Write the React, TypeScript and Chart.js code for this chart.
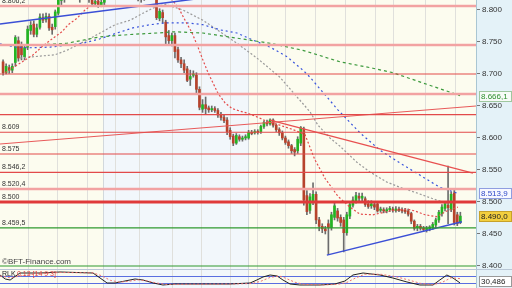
import React, { useEffect, useRef } from 'react';
import { Chart, registerables } from 'chart.js';
Chart.register(...registerables);

// ---------- candle data (index 0..149) ----------
const opens = [8719,8702,8710,8706,8718,8752,8745,8727,8742,8768,8778,8762,8773,8788,8785,8790,8773,8774,8795,8815,
8820,8826,8832,8828,8836,8830,8822,8826,8820,8818,8810,8814,8808,8812,8822,8830,8836,8840,8834,8838,
8832,8836,8830,8834,8828,8826,8820,8826,8830,8828,8822,8787,8796,8781,8760,8752,8760,8738,8722,8716,
8708,8692,8698,8698,8676,8645,8652,8647,8644,8646,8643,8637,8632,8628,8612,8603,8592,8602,8598,8600,
8600,8609,8608,8610,8610,8618,8624,8622,8628,8620,8613,8608,8600,8594,8588,8582,8580,8592,8614,8510,
8487,8500,8512,8472,8462,8458,8466,8460,8476,8486,8476,8472,8452,8478,8495,8502,8509,8506,8505,8497,
8494,8496,8497,8487,8488,8486,8488,8489,8487,8489,8488,8487,8486,8482,8470,8460,8462,8459,8457,8458,
8460,8464,8472,8482,8490,8495,8488,8514,8480,8468];
const highs = [8722,8716,8714,8716,8760,8758,8750,8745,8775,8782,8783,8778,8794,8794,8795,8794,8778,8800,8825,8830,
8834,8838,8840,8842,8844,8834,8832,8830,8826,8822,8818,8818,8816,8826,8836,8842,8846,8846,8844,8842,
8842,8840,8840,8838,8834,8830,8832,8836,8836,8832,8828,8802,8800,8784,8768,8764,8764,8742,8726,8722,
8712,8706,8705,8702,8680,8660,8664,8650,8650,8649,8646,8640,8636,8632,8616,8606,8607,8605,8603,8605,
8612,8612,8613,8613,8620,8627,8628,8630,8630,8622,8616,8611,8603,8597,8590,8585,8602,8618,8617,8518,
8513,8530,8516,8476,8466,8462,8472,8484,8500,8490,8480,8476,8484,8500,8508,8515,8514,8514,8508,8502,
8502,8500,8500,8492,8491,8491,8493,8492,8493,8492,8491,8490,8489,8484,8472,8465,8465,8462,8462,8463,
8468,8475,8487,8496,8500,8556,8516,8518,8484,8484];
const lows = [8698,8700,8701,8702,8712,8720,8722,8722,8738,8762,8758,8758,8770,8780,8781,8768,8762,8770,8792,8808,
8812,8822,8824,8825,8826,8812,8816,8816,8812,8806,8806,8804,8805,8808,8818,8826,8830,8830,8828,8826,
8826,8824,8824,8820,8814,8812,8815,8822,8822,8818,8785,8783,8780,8745,8745,8744,8725,8718,8710,8702,
8688,8682,8695,8670,8644,8640,8638,8640,8641,8640,8632,8628,8624,8605,8598,8588,8590,8595,8595,8597,
8598,8605,8606,8606,8607,8615,8619,8620,8617,8610,8604,8597,8590,8584,8576,8572,8576,8588,8495,8480,
8482,8496,8466,8455,8452,8450,8418,8456,8472,8470,8462,8422,8448,8474,8492,8498,8500,8502,8493,8490,
8490,8488,8484,8484,8483,8483,8485,8484,8484,8485,8483,8482,8478,8466,8456,8455,8456,8454,8453,8455,
8457,8460,8468,8478,8486,8466,8485,8464,8463,8466];
const closes = [8702,8712,8706,8712,8757,8725,8730,8741,8770,8776,8762,8772,8789,8784,8790,8772,8769,8797,8816,8822,
8826,8832,8828,8836,8830,8822,8826,8820,8816,8810,8813,8808,8812,8822,8830,8836,8840,8834,8838,8832,
8836,8830,8834,8828,8826,8820,8826,8830,8828,8822,8788,8798,8788,8758,8752,8760,8735,8722,8716,8706,
8690,8696,8700,8676,8648,8652,8646,8644,8646,8643,8636,8632,8627,8610,8602,8592,8604,8598,8600,8602,
8609,8607,8610,8609,8618,8624,8622,8628,8620,8613,8608,8600,8593,8588,8580,8578,8598,8616,8503,8485,
8508,8512,8472,8462,8458,8455,8460,8480,8494,8475,8468,8452,8480,8496,8503,8510,8506,8509,8496,8493,
8497,8492,8486,8489,8486,8488,8490,8487,8489,8487,8486,8485,8481,8470,8459,8462,8459,8457,8459,8461,
8465,8472,8484,8492,8497,8491,8512,8468,8466,8478];

// ---------- moving averages: [candle index, value] ----------
const maFast = [[0.7,8702],[3.9,8712],[7.2,8722],[9.8,8730],[13,8744],[16.3,8756],[19.2,8766],[21.2,8777],[24.1,8787],[26.7,8800],[29.3,8809],[33.2,8822],[38.1,8831],[44.6,8834],[51.1,8828],[54.4,8819],[57,8805],[59.3,8784],[61.6,8764],[63.5,8742],[65.1,8722],[66.8,8702],[68.4,8686],[70,8670],[72.3,8655],[74.6,8646],[77.2,8642],[79.5,8639],[82.7,8633],[86,8626],[90.2,8620],[95.1,8612],[98.4,8605],[101.6,8566],[104.9,8537],[109.1,8509],[113,8492],[116.3,8481],[120.5,8480],[126.1,8486],[131.6,8489],[134.2,8486],[137.5,8480],[141.4,8477],[144.6,8486],[148.2,8492]];
const maMid = [[5.5,8725],[12.1,8728],[16.9,8730],[20.8,8737],[27.4,8753],[31.6,8764],[36.5,8777],[41.4,8784],[45.6,8795],[48.9,8803],[52.8,8809],[58.6,8800],[65.1,8784],[70.7,8766],[76.2,8748],[82.7,8725],[90.2,8695],[95.8,8664],[100,8641],[102.6,8620],[106.5,8600],[109.8,8587],[115.3,8562],[119.5,8547],[125.1,8531],[129.3,8523],[134.9,8514],[140.1,8505],[144.6,8498]];
const maSlow = [[-1,8747],[3.9,8742],[8.8,8741],[15.3,8742],[20.8,8745],[26.1,8748],[31.6,8755],[37.1,8764],[42.3,8772],[47.9,8777],[53.4,8780],[59.9,8780],[65.1,8777],[70.7,8769],[76.2,8764],[81.4,8753],[87,8742],[92.5,8727],[97.7,8706],[100,8695],[109.1,8644],[116.3,8608],[122.8,8581],[129.3,8561],[135.8,8542],[142.3,8523],[147.9,8514]];
const maLong = [[10.4,8745],[20.8,8748],[31.6,8758],[42.3,8762],[50.2,8764],[55.4,8766],[65.1,8764],[76.2,8756],[87,8748],[97.7,8737],[109.8,8719],[120.5,8709],[127,8702],[136.8,8686],[146.6,8670],[148.9,8666]];

// ---------- trend lines: [index, value] pairs ----------
const trendUpperBlue = [[-1,8778],[64,8818]];
const trendLowerBlue = [[105.5,8417],[149.5,8469]];
const trendRisingRed = [[-1,8590.6],[154.1,8650]];
const trendFallingRed = [[87,8628],[153.1,8545]];

// ---------- horizontal levels ----------
const levelValues = [8806.2, 8745.3, 8700, 8668.7, 8636.4, 8609, 8575, 8546.2, 8520.4, 8500, 8459.5, 8400];
const levelKinds = ['soft','soft','hard','soft','hard','hard','hard','hard','soft','major','support','support'];
const levelLabels = ['8.806,2','','','','','8.609','8.575','8.546,2','8.520,4','8.500','8.459,5',''];

const yTicks = [8400, 8450, 8500, 8550, 8600, 8650, 8700, 8750, 8800];

// ---------- oscillator ----------
const oscMain = [[-1,75.7],[0.7,52.9],[2.3,47.1],[5.5,87.1],[12.1,87.1],[18.6,92.9],[29.3,87.1],[31.6,58.6],[33.9,30],[36.5,30],[39.7,41.4],[43,52.9],[45.6,47.1],[48.9,30],[52.1,18.6],[56,24.3],[64.2,24.3],[73.9,24.3],[80.5,30],[82.7,47.1],[84.7,64.3],[87,75.7],[89.3,70],[91.2,47.1],[93.5,24.3],[96.7,18.6],[103.3,18.6],[108.1,24.3],[111.4,41.4],[114,75.7],[117.3,87.1],[122.8,75.7],[127,58.6],[131.6,35.7],[135.8,18.6],[140.1,18.6],[142.3,47.1],[144.6,75.7],[146.6,58.6],[148.9,30.5]];
const oscSignal = [[-1,70],[2.3,60],[5.5,70],[12,85],[18.6,90],[29.3,88],[32,72],[35,45],[38,35],[41,40],[44,48],[47,42],[50,30],[53,22],[60,23],[74,24],[81,27],[84,40],[87,62],[90,70],[92,58],[95,35],[98,22],[104,19],[109,22],[112,33],[115,60],[118,80],[123,80],[128,66],[132,48],[136,28],[140,20],[143,33],[146,60],[148.9,55]];
const oscLevels = [70, 30];

// ---------- calendar bands & grid (candle index) ----------
const bandEdges = [-1, 32.6, 79.8, 154.1];
const gridIndex = [8.1, 17.6, 27.4, 36.5, 44.3, 55.0, 64.5, 73.9, 82.7, 91.9, 101.6, 111.4, 121.2, 127.0, 137.5, 147.2];

const X_MIN = -1;
const X_MAX = 154.1;

const pts = (a: number[][]) => a.map(([x, y]) => ({ x, y }));

const levelStyle: Record<string, { color: string; width: number }> = {
  soft: { color: '#f2a2a2', width: 2.5 },
  hard: { color: '#e24a4a', width: 1.2 },
  major: { color: '#e03a3a', width: 3 },
  support: { color: '#2f9a2f', width: 1.2 },
};

const FONT = '"Liberation Sans", Arial, sans-serif';

const bandsPlugin = {
  id: 'bands',
  beforeDraw(chart: any) {
    const { ctx, chartArea: a, scales } = chart;
    const x = scales.x;
    ctx.save();
    for (let k = 0; k < bandEdges.length - 1; k++) {
      const x0 = x.getPixelForValue(bandEdges[k]);
      const x1 = x.getPixelForValue(bandEdges[k + 1]);
      ctx.fillStyle = k % 2 === 0 ? '#fcfcef' : '#f2f7fb';
      ctx.fillRect(x0, a.top, x1 - x0, a.bottom - a.top);
    }
    ctx.lineWidth = 1;
    ctx.strokeStyle = '#e0e0dc';
    for (const g of gridIndex) {
      const px = Math.round(x.getPixelForValue(g)) + 0.5;
      ctx.beginPath(); ctx.moveTo(px, a.top); ctx.lineTo(px, a.bottom); ctx.stroke();
    }
    ctx.strokeStyle = '#d2d8dc';
    for (let k = 1; k < bandEdges.length - 1; k++) {
      const px = Math.round(x.getPixelForValue(bandEdges[k])) + 0.5;
      ctx.beginPath(); ctx.moveTo(px, a.top); ctx.lineTo(px, a.bottom); ctx.stroke();
    }
    ctx.fillStyle = '#e4f2f8';
    ctx.fillRect(a.right, 0, chart.width - a.right, chart.height);
    ctx.strokeStyle = '#a9c6d3';
    ctx.beginPath(); ctx.moveTo(a.right + 0.5, 0); ctx.lineTo(a.right + 0.5, chart.height); ctx.stroke();
    ctx.restore();
  },
};

function drawTag(ctx: any, x: number, cy: number, text: string, fg: string, bg: string, border: string) {
  const w = 32, h = 10;
  const top = Math.round(cy - h / 2) + 0.5;
  ctx.fillStyle = bg;
  ctx.fillRect(x + 0.5, top, w, h);
  ctx.strokeStyle = border;
  ctx.lineWidth = 1;
  ctx.strokeRect(x + 0.5, top, w, h);
  ctx.fillStyle = fg;
  ctx.font = `8px ${FONT}`;
  ctx.textBaseline = 'middle';
  ctx.textAlign = 'left';
  ctx.fillText(text, x + 2, top + h / 2 + 0.5);
}

const levelsPlugin = {
  id: 'levels',
  afterDatasetsDraw(chart: any) {
    const { ctx, chartArea: a, scales } = chart;
    const y = scales.y;
    ctx.save();
    ctx.beginPath(); ctx.rect(a.left, a.top, a.right - a.left, a.bottom - a.top); ctx.clip();
    levelValues.forEach((v, i) => {
      const st = levelStyle[levelKinds[i]];
      const py = y.getPixelForValue(v);
      ctx.strokeStyle = st.color;
      ctx.lineWidth = st.width;
      ctx.beginPath(); ctx.moveTo(a.left, py); ctx.lineTo(a.right, py); ctx.stroke();
    });
    ctx.font = `7px ${FONT}`;
    ctx.fillStyle = '#333';
    ctx.textAlign = 'left';
    ctx.textBaseline = 'bottom';
    levelValues.forEach((v, i) => {
      if (!levelLabels[i]) return;
      const py = y.getPixelForValue(v);
      ctx.fillText(levelLabels[i], a.left + 2, py - 1.5);
    });
    ctx.font = `8px ${FONT}`;
    ctx.fillStyle = '#444';
    ctx.fillText('©BFT-Finance.com', a.left + 2, a.bottom - 3);
    ctx.restore();
  },
  afterDraw(chart: any) {
    const { ctx, chartArea: a, scales } = chart;
    const y = scales.y;
    ctx.save();
    const last = closes[closes.length - 1];
    drawTag(ctx, a.right + 3, y.getPixelForValue(8666.1), '8.666,1', '#2d8f2d', '#f7fbf7', '#9fc79f');
    drawTag(ctx, a.right + 3, y.getPixelForValue(8513.9), '8.513,9', '#2f49c8', '#f7f8ff', '#8f9ee0');
    drawTag(ctx, a.right + 3, y.getPixelForValue(last), '8.490,0', '#222', '#f2cf3f', '#c7a22a');
    ctx.restore();
  },
};

const oscPlugin = {
  id: 'osc',
  beforeDatasetsDraw(chart: any) {
    const { ctx, chartArea: a, scales } = chart;
    const y = scales.y;
    ctx.save();
    ctx.strokeStyle = '#5a6ee0';
    ctx.lineWidth = 1;
    for (const l of oscLevels) {
      const py = Math.round(y.getPixelForValue(l)) + 0.5;
      ctx.beginPath(); ctx.moveTo(a.left, py); ctx.lineTo(a.right, py); ctx.stroke();
    }
    ctx.strokeStyle = '#b9c7d6';
    ctx.beginPath(); ctx.moveTo(0, 0.5); ctx.lineTo(chart.width, 0.5); ctx.stroke();
    ctx.restore();
  },
  afterDraw(chart: any) {
    const { ctx, chartArea: a, scales } = chart;
    const y = scales.y;
    ctx.save();
    ctx.font = `7px ${FONT}`;
    ctx.textBaseline = 'top';
    ctx.textAlign = 'left';
    ctx.fillStyle = '#222';
    ctx.fillText('RLK', 2, 2);
    ctx.fillStyle = '#e04848';
    ctx.fillText('0.13 [14 9 3]', 17, 2);
    const lastV = oscMain[oscMain.length - 1][1];
    const cy = Math.min(y.getPixelForValue(lastV), chart.height - 7);
    drawTag(ctx, a.right + 3, cy, '30,486', '#222', '#ffffff', '#999');
    ctx.restore();
  },
};

export default function App() {
  const mainRef = useRef<HTMLCanvasElement>(null);
  const oscRef = useRef<HTMLCanvasElement>(null);

  useEffect(() => {
    const idx = closes.map((_, i) => i);
    const bodyData = idx.map((i) => ({ x: i, y: [Math.min(opens[i], closes[i]), Math.max(opens[i], closes[i])] }));
    const wickData = idx.map((i) => ({ x: i, y: [lows[i], highs[i]] }));
    const bodyColors = idx.map((i) => (closes[i] >= opens[i] ? '#23b523' : '#b7432c'));

    const lineDs = (data: number[][], color: string, width: number, dash: number[], order: number) => ({
      type: 'line' as const,
      data: pts(data),
      borderColor: color,
      borderWidth: width,
      borderDash: dash,
      pointRadius: 0,
      tension: 0,
      fill: false,
      order,
    });

    const main = new Chart(mainRef.current!, {
      type: 'bar',
      data: {
        datasets: [
          { type: 'bar', data: wickData as any, backgroundColor: '#6c6c6c', barThickness: 1, grouped: false, order: 6 } as any,
          { type: 'bar', data: bodyData as any, backgroundColor: bodyColors, borderWidth: 0, barThickness: 2, grouped: false, minBarLength: 1, order: 5 } as any,
          lineDs(maLong, '#3d9a3d', 1.2, [3, 3], 4),
          lineDs(maSlow, '#3a55dc', 1.2, [2, 3], 4),
          lineDs(maMid, '#9a9a9a', 1.2, [2, 2], 4),
          lineDs(maFast, '#e44c4c', 1.2, [2, 2], 3),
          lineDs(trendUpperBlue, '#3b4fd6', 1.5, [], 1),
          lineDs(trendLowerBlue, '#3b4fd6', 1.5, [], 1),
          lineDs(trendRisingRed, '#e85a5a', 1.2, [], 1),
          lineDs(trendFallingRed, '#e85050', 1.2, [], 1),
        ],
      },
      options: {
        animation: false,
        responsive: false,
        maintainAspectRatio: false,
        layout: { padding: 0 },
        plugins: { legend: { display: false }, tooltip: { enabled: false } },
        scales: {
          x: { type: 'linear', min: X_MIN, max: X_MAX, display: false, offset: false },
          y: {
            position: 'right',
            min: 8395.3,
            max: 8815.6,
            afterFit(s: any) { s.width = 36; s.paddingTop = 0; s.paddingBottom = 0; },
            afterBuildTicks(s: any) { s.ticks = yTicks.map((v) => ({ value: v })); },
            ticks: {
              callback: (v: any) => {
                const n = Number(v);
                return Math.floor(n / 1000) + '.' + String(n % 1000).padStart(3, '0');
              },
              font: { size: 8, family: FONT },
              color: '#333',
              padding: 2,
            },
            grid: { drawOnChartArea: false, tickLength: 4, color: '#777' },
            border: { color: '#a9c6d3' },
          },
        },
      } as any,
      plugins: [bandsPlugin, levelsPlugin],
    });

    const osc = new Chart(oscRef.current!, {
      type: 'line',
      data: {
        datasets: [
          { data: pts(oscSignal), borderColor: '#ee7070', borderWidth: 1, borderDash: [2, 2], pointRadius: 0, tension: 0 },
          { data: pts(oscMain), borderColor: '#222', borderWidth: 1, pointRadius: 0, tension: 0 },
        ],
      },
      options: {
        animation: false,
        responsive: false,
        maintainAspectRatio: false,
        layout: { padding: 0 },
        plugins: { legend: { display: false }, tooltip: { enabled: false } },
        scales: {
          x: { type: 'linear', min: X_MIN, max: X_MAX, display: false },
          y: {
            position: 'right', min: 1.4, max: 110,
            afterFit(s: any) { s.width = 36; s.paddingTop = 0; s.paddingBottom = 0; },
            ticks: { display: false },
            grid: { display: false },
            border: { display: false },
          },
        },
      } as any,
      plugins: [bandsPlugin, oscPlugin],
    });

    return () => { main.destroy(); osc.destroy(); };
  }, []);

  return (
    <div style={{ position: 'fixed', left: 0, top: 0, width: 512, height: 288, background: '#fff', overflow: 'hidden' }}>
      <canvas ref={mainRef} width={512} height={269} style={{ display: 'block' }} />
      <canvas ref={oscRef} width={512} height={19} style={{ display: 'block' }} />
    </div>
  );
}
